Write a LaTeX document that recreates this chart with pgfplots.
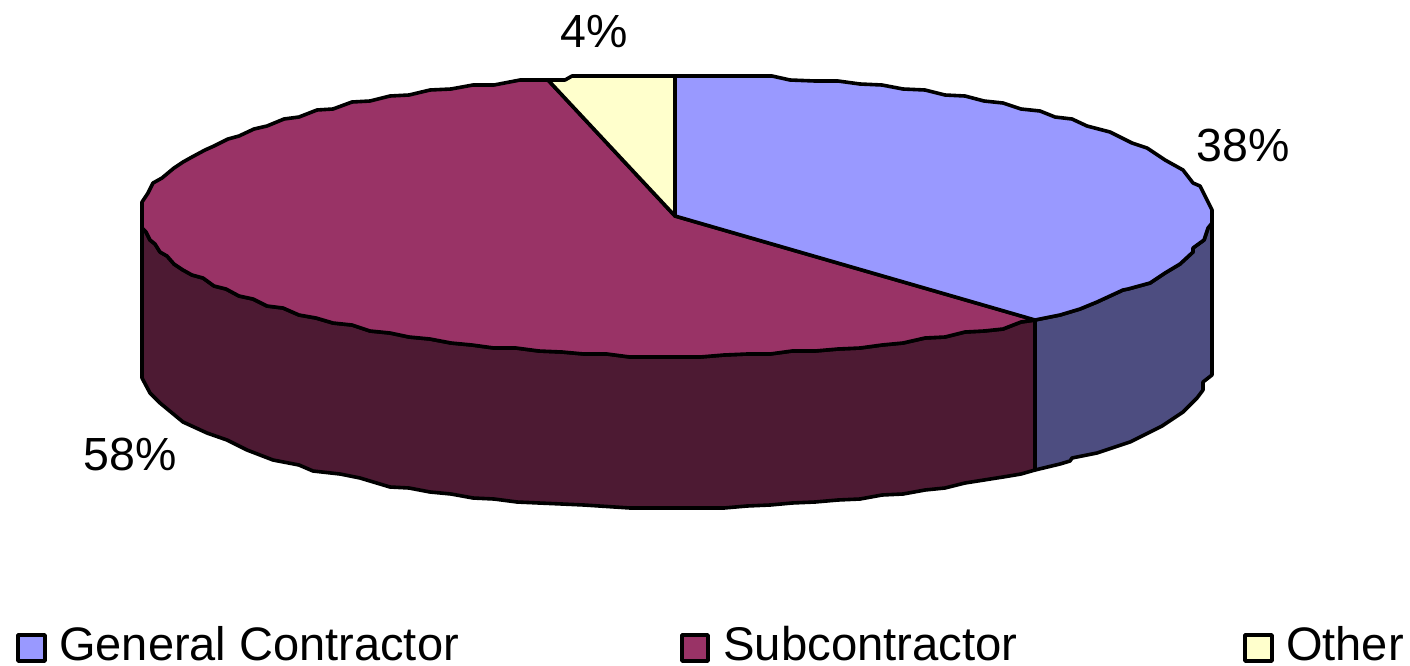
\documentclass[border=0pt]{standalone}
\usepackage{fontspec}
\setmainfont{Liberation Sans}
\usepackage{pgfplots}
\pgfplotsset{compat=1.18}
\definecolor{cblue}{HTML}{9999FF}
\definecolor{cpurple}{HTML}{993366}
\definecolor{cyellow}{HTML}{FFFFCC}
\definecolor{wblue}{HTML}{4D4D80}
\definecolor{wpurple}{HTML}{4D1A33}
\begin{document}
\begin{tikzpicture}[x=1pt,y=1pt]
\path[use as bounding box] (0,0) rectangle (1410,665);
\begin{axis}[
  at={(0,0)},anchor=south west,
  width=1410pt,height=665pt,scale only axis,
  xmin=0,xmax=1410,ymin=0,ymax=665,y dir=reverse,
  axis lines=none,clip=false,
  every axis plot/.append style={mark=none,line width=3.6pt,draw=black,line join=round},
]
% side walls
\addplot[fill=wblue] coordinates {(1035,320)(1060,315)(1080,309)(1097,302)(1123,290)(1128,289)(1150,283)(1165,273)(1180,264)(1193,252)(1193,248)(1204,240)(1208,228)(1212,223)(1212,375)(1203,382)(1203,390)(1197,398)(1183,412)(1162,426)(1130,442)(1097,453)(1072,458)(1070,461)(1060,464)(1035,470)} --cycle;
\addplot[fill=wpurple] coordinates {(1035,320)(1021,322)(1003,329)(984,331)(965,332)(945,337)(925,338)(903,343)(882,345)(860,348)(838,349)(815,351)(792,351)(770,354)(747,354)(724,355)(700,357)(630,357)(607,354)(584,354)(562,352)(539,351)(516,348)(494,348)(472,345)(451,343)(430,339)(409,337)(390,333)(370,331)(352,325)(333,323)(316,318)(299,315)(283,308)(267,306)(253,299)(239,296)(226,289)(214,286)(203,278)(192,275)(183,270)(174,264)(167,256)(160,252)(155,244)(150,240)(146,232)(142,228)(142,378)(150,393)(160,403)(183,422)(207,433)(227,440)(247,450)(273,460)(299,465)(313,471)(340,474)(360,478)(390,487)(409,488)(430,492)(451,494)(473,498)(494,499)(517,502)(539,503)(562,504)(584,505)(630,508)(724,508)(747,506)(770,505)(792,503)(815,502)(838,500)(860,499)(882,495)(903,494)(925,490)(945,488)(965,483)(984,480)(1003,477)(1021,474)(1035,470)} --cycle;
% top surface
\addplot[fill=cpurple] coordinates {(675,216)(1035,320)(1021,322)(1003,329)(984,331)(965,332)(945,337)(925,338)(903,343)(882,345)(860,348)(838,349)(815,351)(792,351)(770,354)(747,354)(724,355)(700,357)(630,357)(607,354)(584,354)(562,352)(539,351)(516,348)(494,348)(472,345)(451,343)(430,339)(409,337)(390,333)(370,331)(352,325)(333,323)(316,318)(299,315)(283,308)(267,306)(253,299)(239,296)(226,289)(214,286)(203,278)(192,275)(183,270)(174,264)(167,256)(160,252)(155,244)(150,240)(146,232)(142,228)(142,202)(148,193)(153,183)(162,178)(174,168)(183,162)(192,157)(205,150)(214,146)(228,139)(239,136)(254,129)(267,126)(284,119)(299,117)(317,110)(333,109)(352,102)(370,101)(390,96)(409,95)(430,90)(451,89)(473,85)(494,85)(520,80)(548,80)} --cycle;
\addplot[fill=cyellow] coordinates {(675,216)(548,80)(565,80)(572,76)(675,76)} --cycle;
\addplot[fill=cblue] coordinates {(675,216)(675,76)(772,76)(790,80)(815,81)(838,81)(860,84)(882,85)(903,89)(925,90)(945,95)(965,96)(984,101)(1003,103)(1021,109)(1040,111)(1055,117)(1072,119)(1087,126)(1110,132)(1132,143)(1147,148)(1165,160)(1183,170)(1193,183)(1200,186)(1212,210)(1212,223)(1208,228)(1204,240)(1193,248)(1193,252)(1180,264)(1165,273)(1150,283)(1128,289)(1123,290)(1097,302)(1080,309)(1060,315)(1035,320)} --cycle;
% legend keys
\addplot[fill=cblue] coordinates {(18,635)(45,635)(45,661)(18,661)} --cycle;
\addplot[fill=cpurple] coordinates {(682,635)(708,635)(708,661)(682,661)} --cycle;
\addplot[fill=cyellow] coordinates {(1245,635)(1272,635)(1272,661)(1245,661)} --cycle;
% texts
\node[anchor=base west,inner sep=0pt,font=\fontsize{47}{56}\selectfont] at (axis cs:59,660) {General Contractor};
\node[anchor=base west,inner sep=0pt,font=\fontsize{47.3}{56}\selectfont] at (axis cs:723,660) {Subcontractor};
\node[anchor=base west,inner sep=0pt,font=\fontsize{47}{56}\selectfont] at (axis cs:1286,660) {Other};
\node[anchor=base,inner sep=0pt,font=\fontsize{46.5}{56}\selectfont] at (axis cs:594,47) {4\%};
\node[anchor=base,inner sep=0pt,font=\fontsize{46.5}{56}\selectfont] at (axis cs:1243,161) {38\%};
\node[anchor=base,inner sep=0pt,font=\fontsize{46.5}{56}\selectfont] at (axis cs:130,470) {58\%};
\end{axis}
\end{tikzpicture}
\end{document}
